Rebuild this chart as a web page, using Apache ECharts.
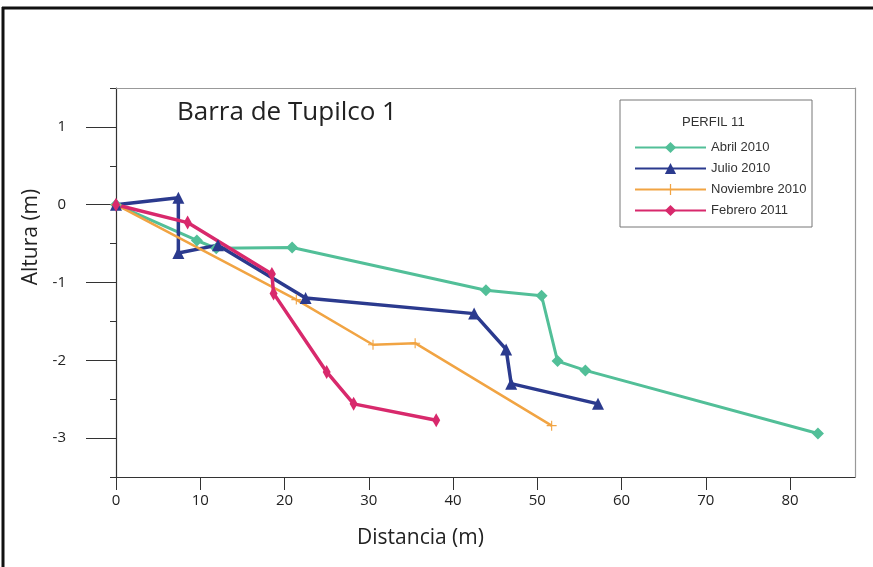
<!DOCTYPE html>
<html>
<head>
<meta charset="utf-8">
<title>Barra de Tupilco 1</title>
<script src="https://cdn.jsdelivr.net/npm/echarts@6/dist/echarts.min.js"></script>
<style>
  html, body { margin: 0; padding: 0; background: #fff; }
  #chart { width: 873px; height: 567px; }
</style>
</head>
<body>
<div id="chart"></div>
<script>
// tick values
const xTicks = [0, 10, 20, 30, 40, 50, 60, 70, 80];
const yTicks = [-3, -2, -1, 0, 1];
const yMinorTicks = [-3.5, -2.5, -1.5, -0.5, 0.5, 1.5];

// perfil 11, [distancia, altura]
const names = ['Abril 2010', 'Julio 2010', 'Noviembre 2010', 'Febrero 2011'];
const abril2010 = [[0, 0], [9.6, -0.46], [11.9, -0.56], [20.9, -0.55], [43.9, -1.1], [50.5, -1.17], [52.4, -2.01], [55.7, -2.13], [83.3, -2.94]];
const julio2010 = [[0, 0], [7.4, 0.09], [7.4, -0.62], [12.1, -0.52], [22.5, -1.2], [42.5, -1.4], [46.3, -1.86], [46.9, -2.3], [57.2, -2.56]];
const noviembre2010 = [[0, 0], [21.4, -1.22], [30.5, -1.8], [35.5, -1.78], [51.7, -2.84]];
const febrero2011 = [[0, 0], [8.5, -0.23], [18.5, -0.89], [18.7, -1.14], [25, -2.15], [28.2, -2.56], [38, -2.77]];

const colors = ['#52bf98', '#2b3a8e', '#f1a443', '#d8296c'];

const chart = echarts.init(document.getElementById('chart'));

const axisFont = { fontFamily: 'Open Sans', fontSize: 15, color: '#222' };

chart.setOption({
  animation: false,
  textStyle: { fontFamily: 'Open Sans' },
  grid: { left: 116, right: 18, top: 88, bottom: 90 },
  xAxis: [
    {
      type: 'value', min: 0, max: 87.7,
      name: 'Distancia (m)', nameLocation: 'middle', nameGap: 51,
      nameTextStyle: { fontFamily: 'Open Sans', fontSize: 21, color: '#222', padding: [0, 130, 0, 0] },
      axisLine: { show: true, onZero: false, lineStyle: { color: '#333', width: 1.2 } },
      axisTick: { show: true, length: 13, customValues: xTicks, lineStyle: { color: '#333' } },
      axisLabel: { customValues: xTicks, margin: 16, ...axisFont },
      splitLine: { show: false }
    },
    {
      // top frame line
      type: 'value', min: 0, max: 87.7, position: 'top',
      axisLine: { show: true, onZero: false, lineStyle: { color: '#999', width: 1.2 } },
      axisTick: { show: false }, axisLabel: { show: false }, splitLine: { show: false }
    }
  ],
  yAxis: [
    {
      type: 'value', min: -3.5, max: 1.5,
      name: 'Altura (m)', nameLocation: 'middle', nameGap: 74,
      nameTextStyle: { fontFamily: 'Open Sans', fontSize: 21, color: '#222', padding: [0, 0, 0, 91] },
      axisLine: { show: true, onZero: false, lineStyle: { color: '#333', width: 1.2 } },
      axisTick: { show: true, length: 30, customValues: yTicks, lineStyle: { color: '#333' } },
      axisLabel: { customValues: yTicks, margin: 50, ...axisFont },
      splitLine: { show: false }
    },
    {
      // half-metre ticks
      type: 'value', min: -3.5, max: 1.5, position: 'left',
      axisLine: { show: false, onZero: false },
      axisTick: { show: true, length: 6, customValues: yMinorTicks, lineStyle: { color: '#333' } },
      axisLabel: { show: false }, splitLine: { show: false }
    },
    {
      // right frame line
      type: 'value', min: -3.5, max: 1.5, position: 'right',
      axisLine: { show: true, onZero: false, lineStyle: { color: '#999', width: 1.2 } },
      axisTick: { show: false }, axisLabel: { show: false }, splitLine: { show: false }
    }
  ],
  legend: {
    orient: 'vertical', left: 629, top: 136,
    itemWidth: 71, itemHeight: 14, itemGap: 8,
    textStyle: { fontFamily: 'Liberation Sans', fontSize: 13, color: '#333' },
    data: names
  },
  graphic: [
    // outer frame, top and left edges
    { type: 'line', shape: { x1: 2, y1: 8, x2: 873, y2: 8 }, style: { stroke: '#111', lineWidth: 3 } },
    { type: 'line', shape: { x1: 3, y1: 7, x2: 3, y2: 567 }, style: { stroke: '#111', lineWidth: 3 } },
    // legend box
    { type: 'rect', shape: { x: 620, y: 100, width: 192, height: 127 },
      style: { fill: 'none', stroke: '#777', lineWidth: 1 } },
    { type: 'text', left: 682, top: 116,
      style: { text: 'PERFIL 11', fontFamily: 'Liberation Sans', fontSize: 13, fill: '#333' } },
    { type: 'text', left: 177, top: 100,
      style: { text: 'Barra de Tupilco 1', fontFamily: 'Open Sans', fontSize: 26, fill: '#222' } }
  ],
  series: [
    { name: names[0], type: 'line', data: abril2010, color: colors[0],
      symbol: 'diamond', symbolSize: 12, lineStyle: { width: 3 } },
    { name: names[1], type: 'line', data: julio2010, color: colors[1],
      symbol: 'triangle', symbolSize: 12, lineStyle: { width: 3.5 } },
    { name: names[2], type: 'line', data: noviembre2010, color: colors[2],
      symbol: 'path://M4,0h1v9h-1z M0,4h9v1h-9z', symbolSize: 10, lineStyle: { width: 2.5 } },
    { name: names[3], type: 'line', data: febrero2011, color: colors[3],
      symbol: 'diamond', symbolSize: [8, 14], lineStyle: { width: 3.5 } }
  ]
});
</script>
</body>
</html>
